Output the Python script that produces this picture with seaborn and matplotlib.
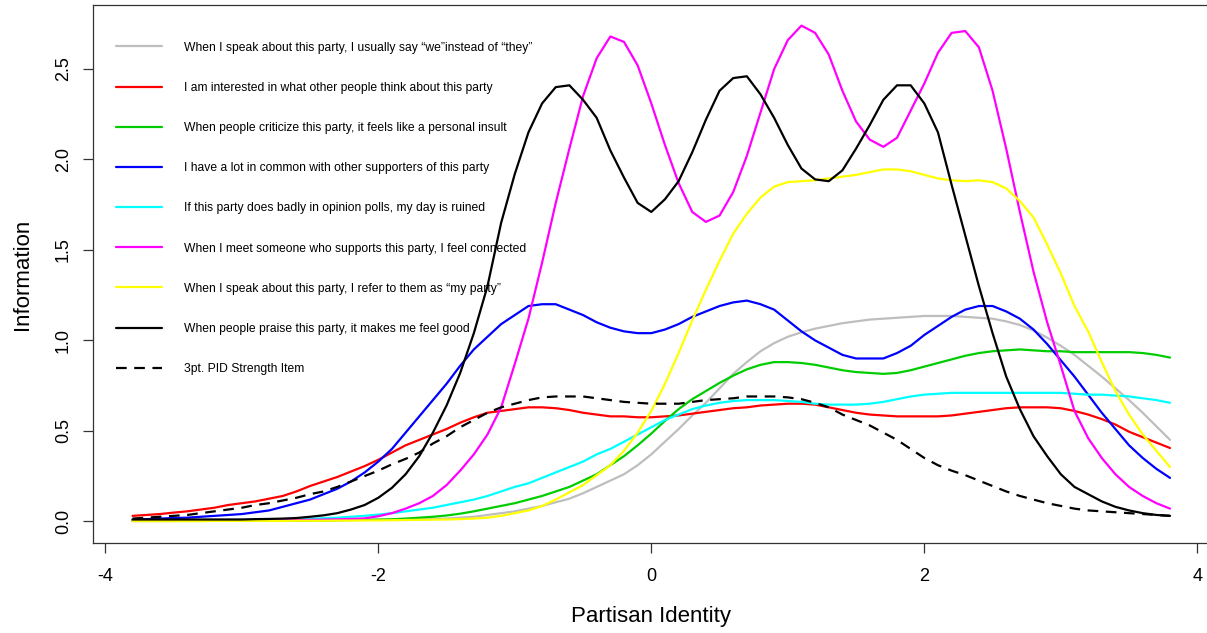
import matplotlib
matplotlib.use("Agg")
import matplotlib.pyplot as plt
import seaborn as sns

# Latent trait grid (theta) on which item information was evaluated
theta = [-3.8, -3.7, -3.6, -3.5, -3.4, -3.3, -3.2, -3.1, -3.0, -2.9,
         -2.8, -2.7, -2.6, -2.5, -2.4, -2.3, -2.2, -2.1, -2.0, -1.9,
         -1.8, -1.7, -1.6, -1.5, -1.4, -1.3, -1.2, -1.1, -1.0, -0.9,
         -0.8, -0.7, -0.6, -0.5, -0.4, -0.3, -0.2, -0.1, 0.0, 0.1,
         0.2, 0.3, 0.4, 0.5, 0.6, 0.7, 0.8, 0.9, 1.0, 1.1,
         1.2, 1.3, 1.4, 1.5, 1.6, 1.7, 1.8, 1.9, 2.0, 2.1,
         2.2, 2.3, 2.4, 2.5, 2.6, 2.7, 2.8, 2.9, 3.0, 3.1,
         3.2, 3.3, 3.4, 3.5, 3.6, 3.7, 3.8]

info_we = [.002, .002, .002, .002, .003, .003, .003, .003, .004, .004,
           .004, .005, .005, .006, .006, .007, .008, .008, .009, .010,
           .010, .012, .013, .015, .020, .025, .035, .045, .055, .070,
           .085, .105, .125, .155, .19, .225, .26, .31, .37, .44,
           .51, .585, .655, .735, .815, .88, .94, .985, 1.02, 1.045,
           1.065, 1.08, 1.095, 1.105, 1.115, 1.12, 1.125, 1.13, 1.135, 1.135,
           1.135, 1.13, 1.125, 1.12, 1.105, 1.085, 1.055, 1.015, .97, .92,
           .86, .80, .735, .67, .60, .525, .45]

info_interested = [.03, .035, .04, .048, .055, .065, .075, .09, .10, .11,
                   .125, .14, .165, .195, .22, .245, .275, .305, .34, .38,
                   .42, .45, .48, .51, .545, .575, .60, .61, .62, .63,
                   .63, .625, .615, .60, .59, .58, .58, .575, .575, .58,
                   .585, .595, .605, .615, .625, .63, .64, .645, .65, .65,
                   .645, .63, .615, .60, .59, .585, .58, .58, .58, .58,
                   .585, .595, .605, .615, .625, .63, .63, .63, .625, .61,
                   .59, .565, .535, .495, .465, .435, .405]

info_insult = [.002, .002, .002, .002, .002, .002, .003, .003, .003, .003,
               .004, .004, .004, .005, .005, .006, .007, .008, .009, .011,
               .015, .02, .025, .032, .042, .055, .07, .085, .10, .12,
               .14, .165, .19, .225, .26, .31, .36, .42, .485, .555,
               .62, .675, .72, .765, .805, .84, .865, .88, .88, .875,
               .865, .85, .835, .825, .82, .815, .82, .835, .855, .875,
               .895, .915, .93, .94, .945, .95, .945, .94, .94, .935,
               .935, .935, .935, .935, .93, .92, .905]

info_common = [.01, .012, .015, .018, .02, .025, .03, .035, .04, .05,
               .06, .08, .10, .12, .15, .18, .22, .27, .33, .40,
               .49, .58, .67, .76, .86, .95, 1.02, 1.09, 1.14, 1.19,
               1.20, 1.20, 1.17, 1.14, 1.10, 1.07, 1.05, 1.04, 1.04, 1.06,
               1.09, 1.13, 1.16, 1.19, 1.21, 1.22, 1.20, 1.17, 1.11, 1.05,
               1.00, .96, .92, .90, .90, .90, .93, .97, 1.03, 1.08,
               1.13, 1.17, 1.19, 1.19, 1.16, 1.12, 1.06, .98, .89, .80,
               .70, .60, .51, .42, .35, .29, .24]

info_polls = [.005, .005, .005, .006, .006, .006, .007, .007, .008, .008,
              .009, .010, .012, .014, .017, .02, .025, .03, .037, .045,
              .055, .065, .075, .09, .105, .12, .14, .165, .19, .21,
              .24, .27, .30, .33, .37, .40, .44, .48, .52, .56,
              .59, .62, .64, .655, .665, .67, .67, .67, .665, .66,
              .65, .645, .645, .645, .65, .66, .675, .69, .70, .705,
              .71, .71, .71, .71, .71, .71, .71, .71, .71, .705,
              .70, .70, .695, .69, .68, .67, .655]

info_connected = [.002, .002, .002, .002, .003, .003, .003, .004, .004, .005,
                  .005, .006, .007, .008, .009, .011, .013, .016, .028, .045,
                  .07, .10, .14, .20, .28, .37, .48, .63, .87, 1.12,
                  1.43, 1.76, 2.06, 2.35, 2.56, 2.68, 2.65, 2.52, 2.31, 2.08,
                  1.87, 1.71, 1.655, 1.69, 1.82, 2.02, 2.26, 2.50, 2.66, 2.74,
                  2.70, 2.58, 2.38, 2.21, 2.11, 2.07, 2.12, 2.27, 2.42, 2.59,
                  2.70, 2.71, 2.62, 2.38, 2.06, 1.71, 1.38, 1.10, .86, .61,
                  .46, .35, .26, .19, .14, .10, .07]

info_my_party = [.001, .001, .001, .001, .001, .001, .002, .002, .002, .002,
                 .002, .002, .003, .003, .003, .004, .004, .005, .005, .006,
                 .007, .008, .009, .010, .012, .015, .02, .03, .045, .06,
                 .085, .12, .16, .20, .255, .31, .39, .49, .61, .76,
                 .93, 1.11, 1.28, 1.44, 1.59, 1.70, 1.79, 1.85, 1.875, 1.88,
                 1.885, 1.895, 1.905, 1.915, 1.93, 1.945, 1.945, 1.935, 1.915, 1.895,
                 1.885, 1.88, 1.885, 1.875, 1.84, 1.77, 1.68, 1.53, 1.37, 1.19,
                 1.05, .88, .72, .59, .48, .39, .30]

info_praise = [.01, .01, .01, .01, .01, .01, .01, .01, .01, .012,
               .013, .015, .018, .025, .033, .045, .065, .09, .13, .185,
               .26, .36, .49, .64, .82, 1.04, 1.30, 1.65, 1.92, 2.15,
               2.31, 2.40, 2.41, 2.33, 2.23, 2.05, 1.90, 1.76, 1.71, 1.78,
               1.88, 2.04, 2.22, 2.38, 2.45, 2.46, 2.36, 2.23, 2.08, 1.95,
               1.89, 1.88, 1.94, 2.06, 2.19, 2.33, 2.41, 2.41, 2.31, 2.15,
               1.86, 1.58, 1.30, 1.04, .80, .62, .47, .36, .26, .19,
               .15, .11, .08, .06, .045, .035, .03]

info_pid3 = [.015, .02, .025, .03, .035, .045, .055, .065, .075, .09,
             .10, .115, .13, .15, .165, .19, .22, .25, .28, .315,
             .345, .38, .43, .47, .52, .56, .60, .63, .65, .67,
             .685, .69, .69, .69, .68, .67, .66, .655, .65, .65,
             .65, .66, .67, .675, .68, .69, .69, .69, .685, .675,
             .655, .63, .59, .56, .53, .49, .45, .40, .35, .31,
             .28, .255, .225, .195, .165, .14, .12, .10, .085, .07,
             .06, .055, .05, .045, .04, .035, .03]

item_labels = [
    "When I speak about this party, I usually say \u201cwe\u201dinstead of \u201cthey\u201d",
    "I am interested in what other people think about this party",
    "When people criticize this party, it feels like a personal insult",
    "I have a lot in common with other supporters of this party",
    "If this party does badly in opinion polls, my day is ruined",
    "When I meet someone who supports this party, I feel connected",
    "When I speak about this party, I refer to them as \u201cmy party\u201d",
    "When people praise this party, it makes me feel good",
    "3pt. PID Strength Item",
]
item_colors = ["#BEBEBE", "#FF0000", "#00CD00", "#0000FF", "#00FFFF",
               "#FF00FF", "#FFFF00", "#000000", "#000000"]

x_ticks = [-4, -2, 0, 2, 4]
x_tick_labels = ["-4", "-2", "0", "2", "4"]
y_ticks = [0.0, 0.5, 1.0, 1.5, 2.0, 2.5]
y_tick_labels = ["0.0", "0.5", "1.0", "1.5", "2.0", "2.5"]

sns.set_style("ticks")
plt.rcParams["font.family"] = ["Liberation Sans", "DejaVu Sans"]
plt.rcParams["text.color"] = "black"
plt.rcParams["axes.labelcolor"] = "black"

W, H = 1207, 633
fig = plt.figure(figsize=(W / 100, H / 100), dpi=100)
ax = fig.add_axes([93 / W, 90 / H, 1116.6 / W, 538 / H])

curves = [info_we, info_interested, info_insult, info_common, info_polls,
          info_connected, info_my_party, info_praise, info_pid3]

for vals, lab, col in zip(curves, item_labels, item_colors):
    sns.lineplot(x=theta, y=vals, ax=ax, color=col, linewidth=1.6,
                 label=lab, sort=False, legend=False)
ax.lines[-1].set_dashes([4.8, 3.4])

ax.set_xlim(-4.09, 4.09)
ax.set_ylim(-0.12, 2.854)
ax.set_xticks(x_ticks)
ax.set_xticklabels(x_tick_labels, fontsize=13)
ax.set_yticks(y_ticks)
ax.set_yticklabels(y_tick_labels, fontsize=13, rotation=90, va="center")

for s in ax.spines.values():
    s.set_color("#333333")
    s.set_linewidth(0.9)
ax.tick_params(axis="both", direction="out", length=7.2, width=0.9,
               color="#333333", labelcolor="black")
ax.tick_params(axis="x", pad=11)
ax.tick_params(axis="y", pad=8)

ax.set_xlabel("Partisan Identity", fontsize=16, labelpad=15, color="black")
ax.set_ylabel("Information", fontsize=16, labelpad=16, color="black")

handles, labels = ax.get_legend_handles_labels()
ax.legend(handles, labels, loc="upper left", bbox_to_anchor=(0.0206, 0.932),
          frameon=False, fontsize=8.75, handlelength=3.78, handletextpad=1.8,
          labelspacing=2.32, borderpad=0, borderaxespad=0)

fig.savefig("out.png", dpi=100)
